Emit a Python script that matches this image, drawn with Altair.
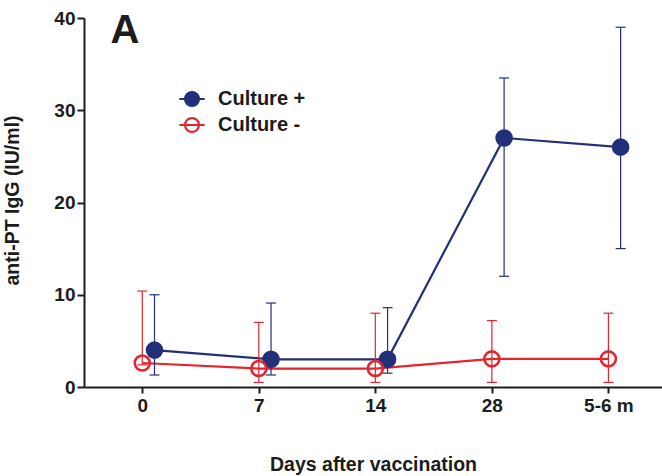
import altair as alt
import pandas as pd

x_labels = ["0", "7", "14", "28", "5-6 m"]
x_index = [0, 1, 2, 3, 4]
series_names = ["Culture +", "Culture -"]

pos_mean = [4.0, 3.0, 3.0, 27.0, 26.0]
pos_low = [1.3, 1.3, 1.5, 12.0, 15.0]
pos_high = [10.0, 9.1, 8.6, 33.5, 39.0]

neg_mean = [2.6, 2.0, 2.0, 3.05, 3.05]
neg_low = [2.4, 0.5, 0.5, 0.5, 0.5]
neg_high = [10.4, 7.0, 8.0, 7.2, 8.0]

offsets = [0.105, 0.0]  # horizontal dodge of the two series (in category units)

rows = []
for name, off, m, lo, hi in [
    (series_names[0], offsets[0], pos_mean, pos_low, pos_high),
    (series_names[1], offsets[1], neg_mean, neg_low, neg_high),
]:
    for i, xi in enumerate(x_index):
        rows.append({"series": name, "x": xi + off, "mean": m[i], "low": lo[i], "high": hi[i]})
df = pd.DataFrame(rows)

BLUE = "#22307a"
RED = "#e1262f"
FONT = "Liberation Sans"
INK = "#1c1c1c"

label_expr = "[" + ",".join("'" + s + "'" for s in x_labels) + "][datum.value]"

xscale = alt.Scale(domain=[-0.5, 4.46], nice=False, zero=False)
yscale = alt.Scale(domain=[0, 40], nice=False)

x_axis = alt.Axis(
    values=x_index,
    labelExpr=label_expr,
    title="Days after vaccination",
    titleFontSize=19.5,
    titleFontWeight="bold",
    titlePadding=40,
    labelFontSize=19,
    labelFontWeight="bold",
    labelPadding=3,
    tickSize=6,
    grid=False,
)
y_axis = alt.Axis(
    values=[0, 10, 20, 30, 40],
    title="anti-PT IgG (IU/ml)",
    titleFontSize=19.5,
    titleFontWeight="bold",
    titleX=-62,
    titleY=182,
    labelFontSize=19,
    labelFontWeight="bold",
    labelPadding=2,
    tickSize=7,
    grid=False,
)

legend_path = "M-1,0H1M0.55,0A0.55,0.55,0,1,1,-0.55,0A0.55,0.55,0,1,1,0.55,0Z"
legend = alt.Legend(
    title=None,
    orient="none",
    legendX=94,
    legendY=67,
    symbolType=legend_path,
    symbolSize=640,
    symbolStrokeWidth=2.2,
    labelFontSize=20,
    labelFontWeight="bold",
    labelFont=FONT,
    labelColor=INK,
    labelOffset=12,
    rowPadding=-1,
    symbolOpacity=1,
)

stroke_scale = alt.Scale(domain=series_names, range=[BLUE, RED])
fill_scale = alt.Scale(domain=series_names, range=[BLUE, "transparent"])

def X(field):
    return alt.X(field, type="quantitative", scale=xscale, axis=x_axis)

def Y(field):
    return alt.Y(field, type="quantitative", scale=yscale, axis=y_axis)

color = alt.Color("series:N", scale=stroke_scale, legend=legend)

base = alt.Chart(df)

lines = base.mark_line(strokeWidth=2.2).encode(
    x=X("x"), y=Y("mean"), detail="series:N", color=color
)
err_rule = base.mark_rule(strokeWidth=1.2).encode(
    x=X("x"), y=Y("low"), y2="high:Q", color=color
)
cap_hi = base.mark_rule(strokeWidth=1.2, xOffset=-5, x2Offset=5).encode(
    x=X("x"), x2="x:Q", y=Y("high"), color=color
)
cap_lo = base.mark_rule(strokeWidth=1.2, xOffset=-5, x2Offset=5).encode(
    x=X("x"), x2="x:Q", y=Y("low"), color=color
)
points = base.mark_point(filled=False, size=225, strokeWidth=2.6, opacity=1).encode(
    x=X("x"),
    y=Y("mean"),
    color=color,
    fill=alt.Fill("series:N", scale=fill_scale, legend=legend),
    shape=alt.value("circle"),
)

panel = pd.DataFrame({"label": ["A"]})
panel_text = alt.Chart(panel).mark_text(
    fontSize=40, fontWeight="bold", font=FONT, color=INK, align="center", baseline="alphabetic"
).encode(text="label:N", x=alt.value(41), y=alt.value(25))

chart = (
    alt.layer(lines, err_rule, cap_hi, cap_lo, points, panel_text)
    .properties(
        width=578,
        height=369,
        padding={"left": 84, "top": 18, "right": 0, "bottom": 89},
        autosize=alt.AutoSizeParams(type="none"),
    )
    .configure_view(stroke=None)
    .configure_axis(
        domainColor=INK,
        domainWidth=2,
        tickColor=INK,
        tickWidth=2,
        labelColor=INK,
        titleColor=INK,
        labelFont=FONT,
        titleFont=FONT,
    )
)

chart.save("out.html", embed_options={"renderer": "svg", "actions": False})
